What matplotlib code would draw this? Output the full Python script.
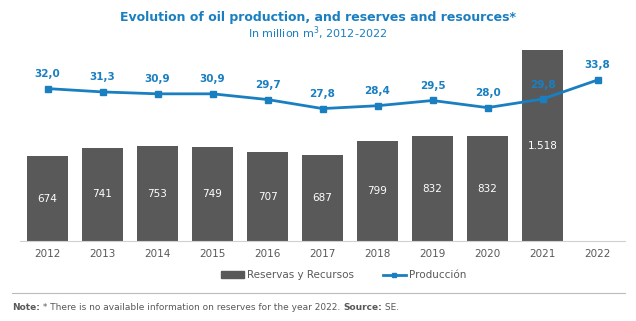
import matplotlib
matplotlib.use('Agg')
import matplotlib.pyplot as plt
from matplotlib.lines import Line2D
from matplotlib.patches import Patch

# Datos: reservas y recursos (barras) y producción (línea), millones de m3
anios = ["2012", "2013", "2014", "2015", "2016", "2017", "2018", "2019", "2020", "2021", "2022"]
reservas = [674, 741, 753, 749, 707, 687, 799, 832, 832, 1518]
reservas_txt = ["674", "741", "753", "749", "707", "687", "799", "832", "832", "1.518"]
produccion = [32.0, 31.3, 30.9, 30.9, 29.7, 27.8, 28.4, 29.5, 28.0, 29.8, 33.8]

gris = "#595959"
azul = "#1a7fc1"

fig = plt.figure(figsize=(6.36, 3.21), dpi=100)
ax = fig.add_axes([20/636, 80/321, 605/636, 201/321])
x = list(range(len(anios)))

ax.bar(x[:len(reservas)], reservas, width=0.74, color=gris, zorder=1)
for xi, v, t in zip(x, reservas, reservas_txt):
    ax.text(xi, v / 2, t, ha="center", va="center", color="white", fontsize=7.5)

ax.set_ylim(0, 1600)
ax.set_xlim(-0.5, len(anios) - 0.5)
ax.set_yticks([])
ax.set_xticks(x)
ax.set_xticklabels(anios, color=gris, fontsize=7.5)
ax.tick_params(axis="x", length=0, pad=6)
for s in ["top", "right", "left"]:
    ax.spines[s].set_visible(False)
ax.spines["bottom"].set_color("#d0d0d0")

ax2 = ax.twinx()
ax2.plot(x, produccion, color=azul, lw=2, marker="s", markersize=4, zorder=3)
for xi, v in zip(x, produccion):
    ax2.text(xi, v + 2.0, f"{v:.1f}".replace(".", ","), ha="center", va="bottom",
             color=azul, fontsize=7.5, fontweight="bold")
ax2.set_ylim(0, 42.2)
ax2.set_yticks([])
for s in ["top", "right", "left", "bottom"]:
    ax2.spines[s].set_visible(False)

fig.text(0.5, 1 - 18/321, "Evolution of oil production, and reserves and resources*",
         ha="center", va="center", color=azul, fontsize=9, fontweight="bold")
fig.text(0.5, 1 - 33/321, "In million m$^3$, 2012-2022",
         ha="center", va="center", color=azul, fontsize=8)

handles = [Patch(color=gris, label="Reservas y Recursos"),
           Line2D([0], [0], color=azul, lw=2, marker="s", markersize=3, label="Producción")]
fig.legend(handles=handles, loc="center", bbox_to_anchor=(0.54, 1 - 275/321), ncol=2,
           frameon=False, fontsize=7.5, labelcolor=gris, handlelength=2.2,
           handleheight=0.6, handletextpad=0.3, columnspacing=2.8)

fig.add_artist(Line2D([12/636, 625/636], [1 - 293/321] * 2, color="#bbbbbb", lw=0.8))

# Nota al pie: trozos encadenados uno tras otro, alternando negrita
partes = [("Note:", "bold"),
          (" * There is no available information on reserves for the year 2022. ", "normal"),
          ("Source:", "bold"),
          (" SE.", "normal")]
t = fig.text(12/636, 1 - 310/321, partes[0][0], fontsize=6.5, fontweight=partes[0][1],
             color=gris, va="baseline")
for txt, peso in partes[1:]:
    t = fig.add_artist(matplotlib.text.Annotation(
        txt, xy=(1, 0), xycoords=t, va="bottom", ha="left",
        fontsize=6.5, fontweight=peso, color=gris))

fig.savefig("out.png", dpi=100)
